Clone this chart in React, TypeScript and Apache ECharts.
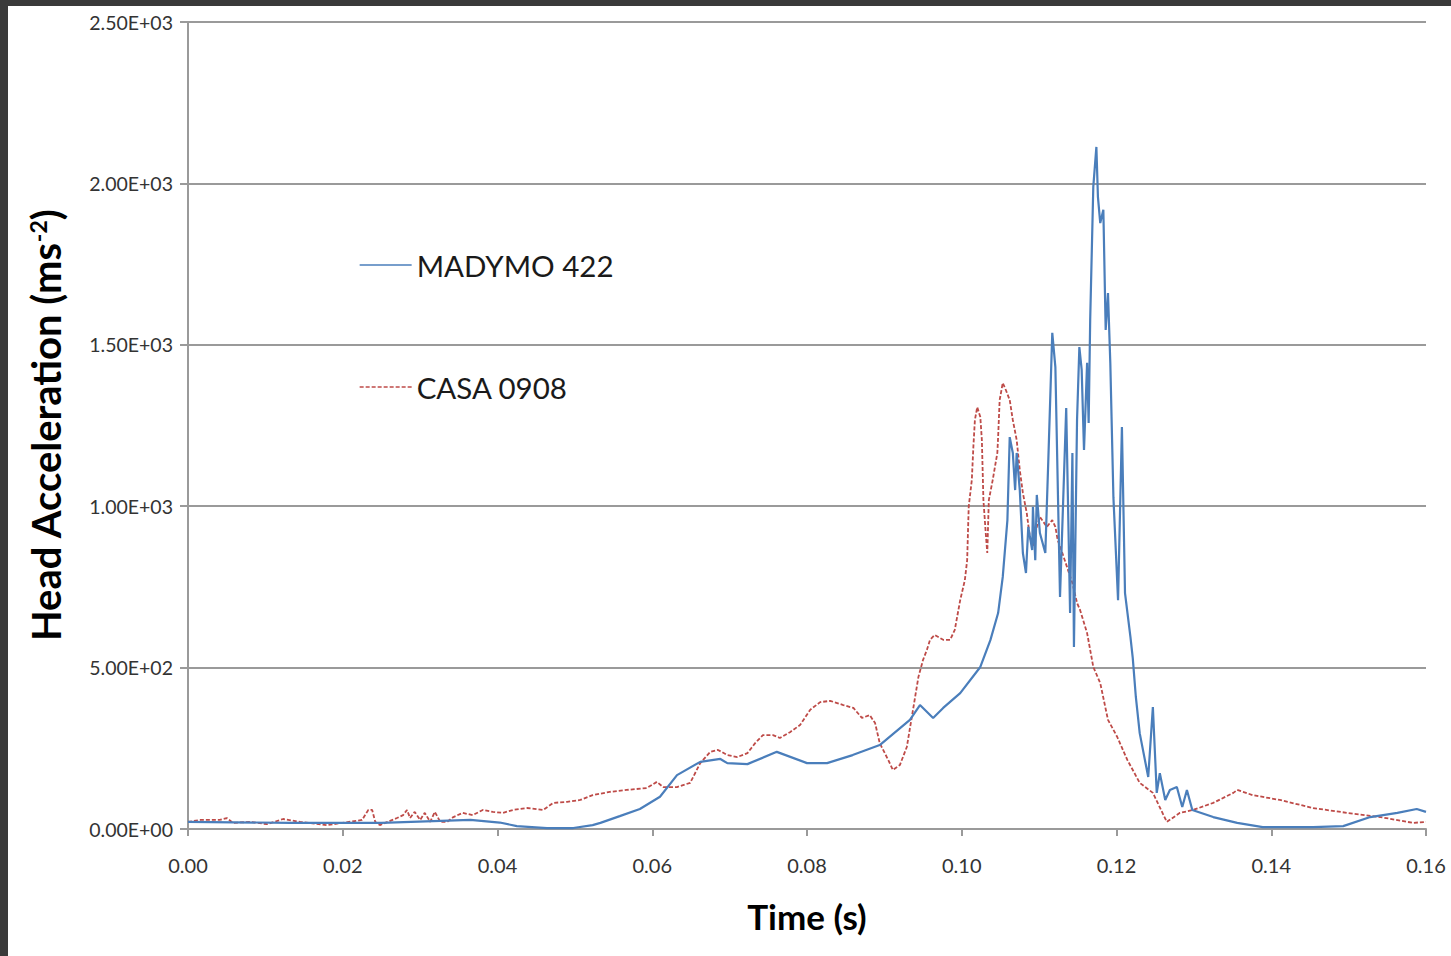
import React, { useEffect, useRef } from "react";
import * as echarts from "echarts";

// ---- Data ----
const seriesNames = ["MADYMO 422", "CASA 0908"];

const madymoTime = [
  0, 0.0132, 0.025, 0.0365, 0.0403, 0.0425, 0.0464, 0.0498, 0.0523, 0.0533, 0.0558, 0.0584, 0.061,
  0.0632, 0.0662, 0.0688, 0.0697, 0.0723, 0.0761, 0.08, 0.0826, 0.0859, 0.0894, 0.0933, 0.0946,
  0.0963, 0.0976, 0.0998, 0.1024, 0.1037, 0.1047, 0.1053, 0.1059, 0.1062, 0.1066, 0.1069, 0.1071,
  0.1075, 0.1079, 0.1083, 0.1086, 0.1091, 0.1092, 0.1095, 0.1097, 0.1101, 0.1108, 0.1112, 0.1117,
  0.1121, 0.1127, 0.1135, 0.114, 0.1143, 0.1145, 0.1149, 0.1152, 0.1155, 0.1158, 0.1162, 0.1164,
  0.1166, 0.117, 0.1174, 0.1176, 0.1179, 0.1183, 0.1186, 0.1189, 0.1192, 0.1196, 0.1202, 0.1207,
  0.1211, 0.1218, 0.1221, 0.1225, 0.123, 0.1241, 0.1247, 0.1252, 0.1256, 0.1263, 0.1269, 0.1278,
  0.1285, 0.1291, 0.1298, 0.1325, 0.1356, 0.1389, 0.1454, 0.1493, 0.1528, 0.1563, 0.1588, 0.16,
];
const madymoAccel = [
  22, 19, 19, 28, 20, 9, 3, 3, 12, 19, 40, 62, 100,
  167, 208, 217, 204, 201, 239, 204, 204, 229, 260, 338, 384,
  344, 375, 421, 502, 585, 669, 781, 957, 1214, 1165, 1050, 1165,
  1050, 855, 793, 936, 864, 998, 833, 1035, 917, 855, 1152, 1537,
  1431, 719, 1304, 669, 1165, 564, 1267, 1493, 1422, 1174, 1444, 1258,
  1577, 1989, 2113, 1958, 1877, 1918, 1546, 1660, 1444, 1028, 709, 1245,
  731, 595, 530, 409, 297, 161, 378, 112, 173, 90, 121, 130,
  68, 121, 59, 37, 19, 6, 6, 9, 37, 50, 62, 53,
];

const casaTime = [
  0, 0.0016, 0.0041, 0.005, 0.0058, 0.008, 0.0102, 0.0123, 0.0145, 0.018, 0.0225, 0.0233, 0.0238,
  0.0242, 0.0248, 0.027, 0.0278, 0.0283, 0.0287, 0.0293, 0.03, 0.0306, 0.0313, 0.0319, 0.0326,
  0.0335, 0.0343, 0.0355, 0.0368, 0.0381, 0.0394, 0.0407, 0.042, 0.0438, 0.0459, 0.0472, 0.049,
  0.0507, 0.0523, 0.0545, 0.0567, 0.0593, 0.0606, 0.0614, 0.0632, 0.0649, 0.0662, 0.0675, 0.0685,
  0.0697, 0.071, 0.0723, 0.0733, 0.0743, 0.0756, 0.0765, 0.0778, 0.0791, 0.0804, 0.0817, 0.083,
  0.0847, 0.086, 0.0871, 0.0881, 0.0888, 0.0894, 0.0905, 0.0911, 0.092, 0.0929, 0.0937, 0.0944,
  0.095, 0.0955, 0.0959, 0.0965, 0.0976, 0.0985, 0.0991, 0.0998, 0.1004, 0.1007, 0.1009, 0.1013,
  0.1015, 0.1017, 0.102, 0.1024, 0.1026, 0.1028, 0.1031, 0.1033, 0.1035, 0.104, 0.1046, 0.1047,
  0.1049, 0.1053, 0.1057, 0.1062, 0.1066, 0.1071, 0.1075, 0.1079, 0.1084, 0.1088, 0.1092, 0.1097,
  0.1101, 0.111, 0.1117, 0.1121, 0.1124, 0.113, 0.1136, 0.1143, 0.1149, 0.1153, 0.1162, 0.117,
  0.1179, 0.1189, 0.1201, 0.1214, 0.123, 0.1247, 0.1265, 0.1282, 0.1299, 0.1325, 0.1351, 0.1356,
  0.1376, 0.1411, 0.1454, 0.1498, 0.1541, 0.1583, 0.16,
];
const casaAccel = [
  22, 28, 28, 34, 19, 22, 15, 31, 22, 12, 28, 59, 59,
  22, 12, 34, 43, 59, 34, 53, 28, 50, 22, 53, 22,
  22, 37, 50, 43, 59, 53, 50, 59, 65, 59, 81, 84,
  90, 105, 115, 121, 127, 146, 130, 130, 143, 204, 239, 245,
  229, 223, 235, 266, 291, 291, 282, 300, 322, 369, 393, 397,
  384, 375, 344, 353, 328, 266, 214, 183, 198, 254, 369, 471,
  524, 555, 586, 601, 586, 586, 617, 709, 771, 833, 998, 1081,
  1183, 1267, 1307, 1276, 1205, 1019, 917, 855, 1019, 1081, 1165, 1214,
  1329, 1382, 1360, 1329, 1267, 1205, 1112, 1041, 979, 905, 874, 936,
  967, 936, 957, 936, 895, 855, 812, 762, 700, 678, 607, 502,
  452, 338, 285, 214, 143, 112, 22, 50, 59, 81, 112, 121,
  105, 90, 65, 50, 37, 19, 22,
];

const yMin = 0;
const yMax = 2500;
const yStep = 500;
const xMin = 0;
const xMax = 0.16;
const xStep = 0.02;

function sciLabel(v: number): string {
  if (v === 0) return "0.00E+00";
  const e = Math.floor(Math.log10(Math.abs(v)) + 1e-9);
  const m = v / Math.pow(10, e);
  const sign = e >= 0 ? "+" : "-";
  const ea = Math.abs(e);
  return m.toFixed(2) + "E" + sign + (ea < 10 ? "0" + ea : String(ea));
}

const FONT = "Lato, 'Open Sans', sans-serif";

export default function App() {
  const ref = useRef<HTMLDivElement>(null);

  useEffect(() => {
    if (!ref.current) return;
    const chart = echarts.init(ref.current, null, { renderer: "svg" });
    const blue = madymoTime.map((t, i) => [t, madymoAccel[i]]);
    const red = casaTime.map((t, i) => [t, casaAccel[i]]);
    chart.setOption({
      animation: false,
      backgroundColor: "#ffffff",
      grid: { left: 180, right: 25, top: 16, bottom: 127, containLabel: false },
      legend: {
        orient: "vertical",
        left: 346,
        top: 239,
        itemWidth: 52,
        itemHeight: 30,
        itemGap: 92,
        itemStyle: { opacity: 0 },
        lineStyle: { width: 1.3 },
        textStyle: { fontFamily: FONT, fontSize: 29.5, color: "#1a1a1a", lineHeight: 30 },
        data: seriesNames,
      },
      xAxis: {
        type: "value",
        min: xMin,
        max: xMax,
        interval: xStep,
        name: "Time (s)",
        nameLocation: "middle",
        nameGap: 69,
        nameTextStyle: { fontFamily: FONT, fontWeight: "bold", fontSize: 35, color: "#000" },
        axisLine: { show: true, lineStyle: { color: "#9a9a9a", width: 2 } },
        axisTick: { show: true, inside: false, length: 7, lineStyle: { color: "#9a9a9a", width: 2 } },
        axisLabel: {
          margin: 26,
          fontFamily: FONT,
          fontSize: 20,
          color: "#333",
          formatter: (v: number) => v.toFixed(2),
        },
        splitLine: { show: false },
      },
      yAxis: {
        type: "value",
        min: yMin,
        max: yMax,
        interval: yStep,
        name: "Head Acceleration (ms{sup|-2})",
        nameLocation: "middle",
        nameRotate: 90,
        nameGap: 122,
        nameTextStyle: {
          fontFamily: FONT,
          fontWeight: "bold",
          fontSize: 40,
          color: "#000",
          rich: {
            sup: {
              fontFamily: FONT,
              fontWeight: "bold",
              fontSize: 23,
              color: "#000",
              verticalAlign: "top",
              padding: [0, 0, 15, 0],
            },
          },
        },
        axisLine: { show: true, lineStyle: { color: "#9a9a9a", width: 2 } },
        axisTick: { show: true, inside: false, length: 8, lineStyle: { color: "#9a9a9a", width: 2 } },
        axisLabel: {
          margin: 15,
          fontFamily: FONT,
          fontSize: 19.5,
          color: "#333",
          formatter: (v: number) => sciLabel(v),
        },
        splitLine: { show: true, lineStyle: { color: "#9a9a9a", width: 2 } },
      },
      series: [
        {
          name: seriesNames[0],
          type: "line",
          data: blue,
          symbol: "none",
          lineStyle: { color: "#4a7ebb", width: 2.2 },
          itemStyle: { color: "#4a7ebb" },
          z: 3,
        },
        {
          name: seriesNames[1],
          type: "line",
          data: red,
          symbol: "none",
          lineStyle: { color: "#be4b48", width: 1.8, type: [4, 2] },
          itemStyle: { color: "#be4b48" },
          z: 2,
        },
      ],
    });
    return () => chart.dispose();
  }, []);

  return (
    <div style={{ position: "fixed", left: 0, top: 0, width: 1451, height: 956, background: "#3a3a3a" }}>
      <div
        ref={ref}
        style={{ position: "absolute", left: 8, top: 6, width: 1443, height: 950, background: "#ffffff" }}
      />
    </div>
  );
}
